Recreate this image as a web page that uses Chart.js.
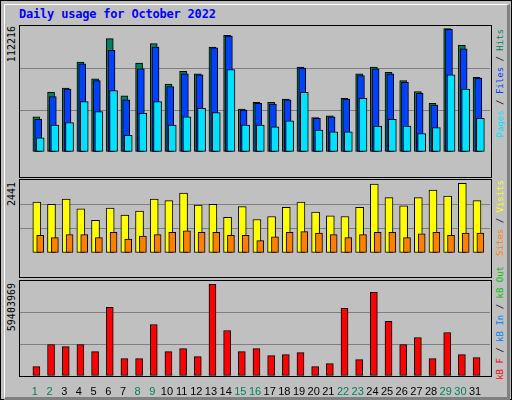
<!DOCTYPE html>
<html><head><meta charset="utf-8">
<script src="https://cdn.jsdelivr.net/npm/chart.js@4/dist/chart.umd.min.js"></script>
<style>
html,body{margin:0;padding:0;background:#C0C0C0;}
#root{position:relative;width:512px;height:400px;overflow:hidden;background:#C0C0C0;font-family:"DejaVu Sans Mono",monospace;}
.abs{position:absolute;}
.panel{position:absolute;border:1px solid #000;box-sizing:border-box;}
.vt{position:absolute;writing-mode:vertical-rl;transform:rotate(180deg);white-space:nowrap;font-size:10px;line-height:12px;}
.lg{font-size:9px;}
canvas{position:absolute;}
</style></head><body>
<div id="root">
  <div class="abs" style="left:0;top:0;width:510px;height:398px;border:1px solid #000;"></div>
  <div class="abs" style="left:4px;top:4px;width:502px;height:392px;border-top:1px solid #fff;border-left:1px solid #fff;border-right:3px solid #808080;border-bottom:3px solid #808080;"></div>
  <div class="abs" style="left:19px;top:7px;font-size:12px;font-weight:bold;color:#0000FF;letter-spacing:-0.2px;">Daily usage for October 2022</div>
  <div class="panel" style="left:19px;top:25px;width:473px;height:153px;"></div>
  <div class="panel" style="left:19px;top:179px;width:473px;height:99px;"></div>
  <div class="panel" style="left:19px;top:280px;width:473px;height:97px;"></div>
  <div class="vt" style="left:6px;top:26px;">112216</div>
  <div class="vt" style="left:6px;top:182px;">2441</div>
  <div class="vt" style="left:6px;top:283px;">59403969</div>
  <div class="vt lg" style="left:494px;top:29px;"><span style="color:#00E0FF">Pages</span> / <span style="color:#0040FF">Files</span> / <span style="color:#00805C">Hits</span></div>
  <div class="vt lg" style="left:494px;top:180px;"><span style="color:#FF8000">Sites</span> / <span style="color:#FFFF00">Visits</span></div>
  <div class="vt lg" style="left:494px;top:266px;"><span style="color:#FF0000">kB F</span> / <span style="color:#0080FF">kB In</span> / <span style="color:#00C000">kB Out</span></div>
  <canvas id="c1" style="left:20px;top:26px;width:470px;height:150px;"></canvas>
  <canvas id="c2" style="left:20px;top:180px;width:470px;height:97px;"></canvas>
  <canvas id="c3" style="left:20px;top:281px;width:470px;height:119px;"></canvas>
</div>
<script>
const days = [1,2,3,4,5,6,7,8,9,10,11,12,13,14,15,16,17,18,19,20,21,22,23,24,25,26,27,28,29,30,31];
const weekend = [1,2,8,9,15,16,22,23,29,30];
const hits = [32050,54180,58000,81660,66400,103000,51130,80900,98450,61800,73260,70970,95400,106080,38920,45030,45030,48080,77080,31290,32820,48840,70970,77080,72500,64870,54950,44260,112216,96920,67920];
const files = [29760,50370,57240,80130,64870,92340,47310,75550,95390,59520,70970,70210,94630,105310,38160,44260,43500,47310,76310,30530,32050,48080,69440,75550,70970,63340,53420,42740,111420,93870,67160];
const pages = [12970,24420,26710,45790,36630,55710,15260,35100,45790,24420,32050,39680,35870,74790,24420,24420,22890,28240,54180,19840,18320,18320,48840,23660,29760,23660,16790,22130,70210,57240,30530];
const visits = [1780,1701,1886,1542,1146,1569,1331,1463,1886,1833,2097,1674,1701,1251,1621,1172,1278,1595,1780,1436,1304,1278,1595,2415,1939,1648,1939,2203,1992,2441,1833];
const sites = [617,538,643,643,538,723,485,590,643,723,775,723,723,617,617,432,564,723,749,696,643,538,643,723,723,538,670,723,617,696,696];
const kbF = [6070000,20380000,19079000,20380000,15827000,44445000,11274000,11274000,33388000,15827000,17778000,12575000,59403969,29485000,15827000,17778000,13225000,13875000,15176000,6070000,8022000,43794000,10623000,54201000,35339000,20380000,24932000,11274000,28184000,13875000,11924000];

const pts = (arr, off) => arr.map((v,i)=>({x:days[i]+off,y:v}));
const ds = (arr, off, color, w, order) => ({data:pts(arr,off),backgroundColor:color,borderColor:'#000',borderWidth:1,barThickness:w,grouped:false,borderSkipped:false,order:order});

function make(id, datasets, max, showX){
  const grid = {color:(c)=> (c.index===1||c.index===2)?'#808080':'rgba(0,0,0,0)', lineWidth:1, drawTicks:false};
  new Chart(document.getElementById(id), {
    type:'bar',
    data:{datasets},
    options:{
      responsive:false, animation:false, devicePixelRatio:1,
      layout:{padding:0},
      plugins:{legend:{display:false},tooltip:{enabled:false}},
      scales:{
        x:{type:'linear',min:0.5,max:31.5,display:showX,grid:{display:false},border:{display:false},
           afterBuildTicks:(s)=>{s.ticks=days.map(d=>({value:d}));},
           afterFit:(s)=>{s.height=24;},
           ticks:{autoSkip:false,maxRotation:0,padding:1,font:{family:'Liberation Sans',size:11},
             color:(c)=>weekend.includes(c.tick.value)?'#008060':'#000',
             callback:(v)=>String(v)}},
        y:{min:0,max:max,ticks:{display:false,stepSize:max/3},grid:grid,border:{display:false}}
      }
    }
  });
}
document.getElementById('c1').width=470;document.getElementById('c1').height=150;
document.getElementById('c2').width=470;document.getElementById('c2').height=97;
document.getElementById('c3').width=470;document.getElementById('c3').height=119;
make('c1',[ds(hits,0.1,'#00805C',7,3),ds(files,0.22,'#0040FF',7,2),ds(pages,0.36,'#00E0FF',8,1)],114506,false);
make('c2',[ds(visits,0.13,'#FFFF00',8,2),ds(sites,0.36,'#FF8000',7,1)],2554,false);
make('c3',[ds(kbF,0.1,'#FF0000',7,1)],61541700,true);
</script>
</body></html>
